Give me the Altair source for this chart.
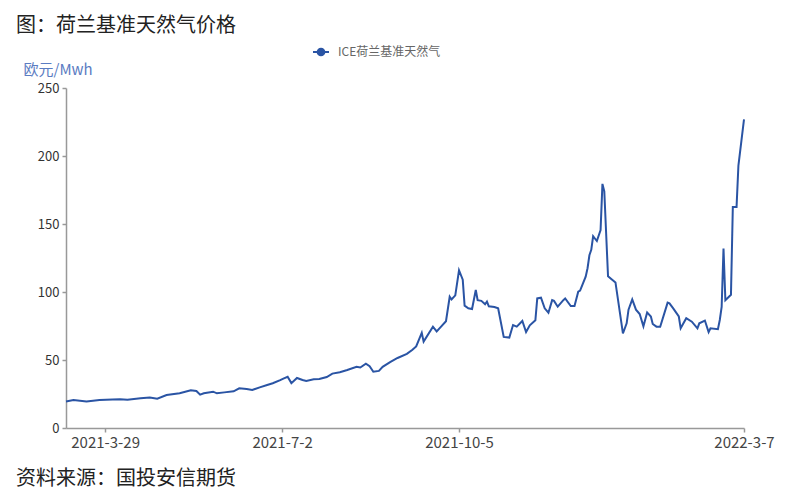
import altair as alt
import pandas as pd

header_text = "图：荷兰基准天然气价格"
footer_text = "资料来源：国投安信期货"
series_name = "ICE荷兰基准天然气"
y_unit = "欧元/Mwh"

dates = [
    "2021-03-08", "2021-03-12", "2021-03-19", "2021-03-26", "2021-04-02", "2021-04-06", "2021-04-10", "2021-04-17", "2021-04-22", "2021-04-26",
    "2021-05-01", "2021-05-08", "2021-05-14", "2021-05-17", "2021-05-19", "2021-05-21", "2021-05-26", "2021-05-28", "2021-06-01", "2021-06-06",
    "2021-06-09", "2021-06-13", "2021-06-16", "2021-06-20", "2021-06-24", "2021-06-27", "2021-07-01", "2021-07-03", "2021-07-05", "2021-07-07",
    "2021-07-10", "2021-07-13", "2021-07-15", "2021-07-19", "2021-07-22", "2021-07-26", "2021-07-29", "2021-08-02", "2021-08-06", "2021-08-11",
    "2021-08-13", "2021-08-16", "2021-08-18", "2021-08-20", "2021-08-23", "2021-08-25", "2021-08-29", "2021-09-02", "2021-09-07", "2021-09-10",
    "2021-09-12", "2021-09-15", "2021-09-16", "2021-09-21", "2021-09-23", "2021-09-25", "2021-09-28", "2021-09-30", "2021-10-01", "2021-10-03",
    "2021-10-05", "2021-10-07", "2021-10-08", "2021-10-10", "2021-10-12", "2021-10-14", "2021-10-15", "2021-10-17", "2021-10-19", "2021-10-20",
    "2021-10-21", "2021-10-24", "2021-10-26", "2021-10-29", "2021-11-01", "2021-11-03", "2021-11-05", "2021-11-08", "2021-11-10", "2021-11-12",
    "2021-11-15", "2021-11-16", "2021-11-18", "2021-11-20", "2021-11-22", "2021-11-24", "2021-11-25", "2021-11-27", "2021-11-30", "2021-12-01",
    "2021-12-04", "2021-12-06", "2021-12-08", "2021-12-09", "2021-12-12", "2021-12-13", "2021-12-14", "2021-12-15", "2021-12-16", "2021-12-18",
    "2021-12-20", "2021-12-21", "2021-12-22", "2021-12-24", "2021-12-28", "2022-01-01", "2022-01-03", "2022-01-04", "2022-01-06", "2022-01-08",
    "2022-01-10", "2022-01-12", "2022-01-14", "2022-01-16", "2022-01-17", "2022-01-19", "2022-01-21", "2022-01-25", "2022-01-26", "2022-01-28",
    "2022-01-31", "2022-02-01", "2022-02-04", "2022-02-07", "2022-02-10", "2022-02-11", "2022-02-14", "2022-02-16", "2022-02-17", "2022-02-21",
    "2022-02-22", "2022-02-23", "2022-02-24", "2022-02-25", "2022-02-28", "2022-03-01", "2022-03-03", "2022-03-04", "2022-03-07",
]

prices = [
    19.5, 20.5, 19.5, 20.5, 21.0, 21.2, 20.7, 21.8, 22.5, 21.5,
    24.2, 25.5, 27.8, 27.2, 24.5, 25.5, 26.7, 25.5, 26.2, 27.0,
    29.2, 28.7, 28.0, 29.9, 31.6, 32.9, 35.2, 36.5, 37.7, 33.0,
    36.8, 35.3, 34.6, 35.8, 36.0, 37.5, 40.0, 41.0, 42.6, 45.0,
    44.5, 47.3, 45.5, 41.4, 42.0, 45.0, 48.5, 51.5, 54.5, 57.5,
    60.0, 70.0, 63.5, 74.5, 71.0, 74.0, 78.5, 96.5, 94.5, 97.5,
    116.0, 109.0, 90.0, 88.0, 87.5, 101.5, 94.0, 93.5, 91.0, 93.0,
    89.5, 89.0, 88.0, 67.0, 66.5, 75.7, 74.5, 78.7, 70.6, 75.5,
    79.2, 95.3, 95.8, 88.0, 84.8, 94.0, 93.5, 89.2, 94.0, 95.3,
    89.7, 89.7, 100.2, 101.0, 111.3, 117.5, 127.0, 131.0, 141.0, 137.5,
    145.5, 179.5, 174.0, 111.5, 107.0, 69.5, 77.0, 87.0, 94.5, 87.0,
    83.8, 74.8, 85.0, 82.0, 76.5, 74.5, 74.5, 92.2, 91.7, 88.0,
    82.0, 73.3, 80.7, 78.2, 73.3, 77.0, 79.0, 70.5, 73.3, 72.6,
    79.4, 89.0, 132.0, 94.0, 98.0, 162.5, 162.5, 193.0, 227.0,
]

x_tick_dates = ["2021-03-29", "2021-07-02", "2021-10-05", "2022-03-07"]
x_domain = ["2021-03-08", "2022-03-07"]
y_ticks = [0, 50, 100, 150, 200, 250]

LINE_COLOR = "#2a54a4"
CJK = "Noto Sans CJK SC"


def dt(s):
    y, m, d = map(int, s.split("-"))
    return alt.DateTime(year=y, month=m, date=d)


df = pd.DataFrame({"date": pd.to_datetime(dates), "price": prices, "series": series_name})

legend_symbol = "M-1,0H1M-0.42,0A0.42,0.42,0,1,1,0.42,0A0.42,0.42,0,1,1,-0.42,0Z"

line = alt.Chart(df).mark_line(strokeWidth=2).encode(
    x=alt.X(
        "date:T",
        scale=alt.Scale(domain=[dt(s) for s in x_domain], nice=False),
        axis=alt.Axis(
            values=[dt(s) for s in x_tick_dates],
            format="%Y-%-m-%-d",
            title=None,
            grid=False,
            labelFlush=False,
            labelOverlap=False,
            labelFontSize=15,
            labelColor="#444444",
            labelFont=CJK,
            labelPadding=3,
            tickSize=4,
        ),
    ),
    y=alt.Y(
        "price:Q",
        scale=alt.Scale(domain=[0, 250], nice=False),
        axis=alt.Axis(
            values=y_ticks,
            title=y_unit,
            titleAngle=0,
            titleAlign="left",
            titleBaseline="middle",
            titleX=-43,
            titleY=-19,
            titleFontSize=15,
            titleFontWeight="normal",
            titleColor="#5b7cc2",
            titleFont=CJK,
            grid=False,
            labelFontSize=13,
            labelColor="#333333",
            labelFont=CJK,
            labelPadding=3,
            tickSize=4,
        ),
    ),
    color=alt.Color(
        "series:N",
        scale=alt.Scale(range=[LINE_COLOR]),
        legend=alt.Legend(
            orient="none",
            legendX=246,
            legendY=-45,
            title=None,
            symbolType=legend_symbol,
            symbolSize=256,
            symbolStrokeWidth=2,
            symbolFillColor=LINE_COLOR,
            symbolStrokeColor=LINE_COLOR,
            labelFontSize=12,
            labelColor="#666666",
            labelFont=CJK,
            labelOffset=8,
        ),
    ),
)

header = alt.Chart(pd.DataFrame({"t": [header_text]})).mark_text(
    align="left", baseline="middle", fontSize=20, font=CJK, color="#222222"
).encode(x=alt.value(-50), y=alt.value(-62), text="t:N")

footer = alt.Chart(pd.DataFrame({"t": [footer_text]})).mark_text(
    align="left", baseline="middle", fontSize=20, font=CJK, color="#222222"
).encode(x=alt.value(-50), y=alt.value(391), text="t:N")

chart = (
    alt.layer(line, header, footer)
    .properties(
        width=678,
        height=340,
        padding={"left": 58, "top": 80, "right": 48, "bottom": 64},
        autosize=alt.AutoSizeParams(type="none"),
    )
    .configure_view(strokeWidth=0)
    .configure_axis(
        domainColor="#999999",
        domainWidth=1.5,
        tickColor="#999999",
        tickWidth=1.5,
    )
)

chart.save("out.html", embed_options={"renderer": "svg", "actions": False})
